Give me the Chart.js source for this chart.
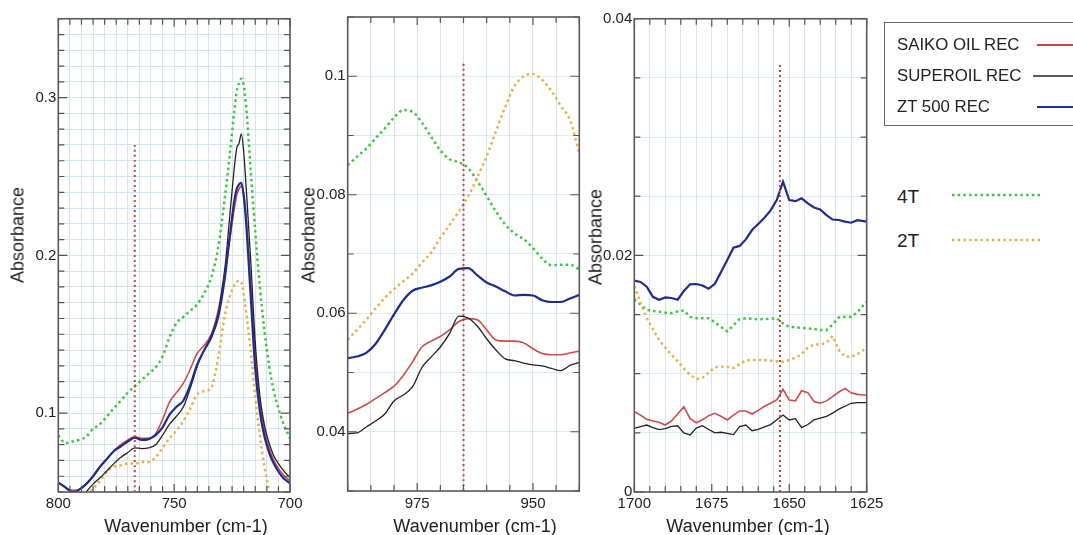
<!DOCTYPE html>
<html>
<head>
<meta charset="utf-8">
<script src="https://cdn.jsdelivr.net/npm/chart.js@4.4.1/dist/chart.umd.min.js"></script>
<style>
    html, body { margin: 0; padding: 0; background: #fff; }
    body { width: 1073px; height: 535px; position: relative; overflow: hidden;
           font-family: "Liberation Sans", Arial, sans-serif; color: #222; }
    canvas { position: absolute; top: 0; }
    .ytitle, .xtitle { position: absolute; font-size: 18px; white-space: nowrap; }
    .ytitle { transform: translate(-50%, -50%) rotate(-90deg); }
    .xtitle { transform: translate(-50%, -50%); }
    .legend-box { position: absolute; left: 884px; top: 22px; width: 200px; height: 104px;
                  border: 1.3px solid #666; box-sizing: border-box; }
    .lg { position: absolute; left: 897px; font-size: 16.8px; line-height: 20px; white-space: nowrap; }
    .lg2 { position: absolute; left: 897px; font-size: 19px; line-height: 22px; }
    svg { position: absolute; left: 0; top: 0; }
</style>
</head>
<body>
<canvas id="p1"></canvas>
<canvas id="p2"></canvas>
<canvas id="p3"></canvas>

<div class="ytitle" style="left:18px;top:235px">Absorbance</div>
<div class="ytitle" style="left:309px;top:235px">Absorbance</div>
<div class="ytitle" style="left:596px;top:237px">Absorbance</div>
<div class="xtitle" style="left:186px;top:526px">Wavenumber (cm-1)</div>
<div class="xtitle" style="left:475px;top:526px">Wavenumber (cm-1)</div>
<div class="xtitle" style="left:748px;top:526px">Wavenumber (cm-1)</div>

<div class="legend-box"></div>
<div class="lg" style="top:35px">SAIKO OIL REC</div>
<div class="lg" style="top:66px">SUPEROIL REC</div>
<div class="lg" style="top:97px">ZT 500 REC</div>
<div class="lg2" style="top:186px">4T</div>
<div class="lg2" style="top:230px">2T</div>
<svg width="1073" height="535">
    <line x1="1037" y1="45" x2="1073" y2="45" stroke="#cc4444" stroke-width="2"/>
    <line x1="1033" y1="76" x2="1073" y2="76" stroke="#222" stroke-width="1.5"/>
    <line x1="1037" y1="107" x2="1073" y2="107" stroke="#1f2b8f" stroke-width="2"/>
    <line x1="952" y1="195" x2="1043" y2="195" stroke="#3cc63c" stroke-width="2.5" stroke-dasharray="2.5 3.2"/>
    <line x1="952" y1="240" x2="1043" y2="240" stroke="#e9b04c" stroke-width="2.5" stroke-dasharray="2.5 3.2"/>
</svg>

<script>
// ---- Panel 1: 800-700 cm-1 ----
const wn1 = [800, 797, 794, 791, 788, 785, 782, 779, 776, 773,
             770, 767, 764, 761, 758, 755, 752, 749, 746, 743,
             740, 737, 734, 731, 728, 726, 724, 723, 722, 721,
             720, 719, 717, 715, 713, 711, 709, 707, 705, 703, 700];
const saiko1 = [0.056, 0.053, 0.051, 0.0515, 0.055, 0.060, 0.066, 0.071, 0.076, 0.080,
                0.083, 0.085, 0.084, 0.084, 0.087, 0.096, 0.107, 0.113, 0.119, 0.128,
                0.138, 0.143, 0.150, 0.165, 0.191, 0.210, 0.230, 0.238, 0.242, 0.244,
                0.239, 0.225, 0.183, 0.137, 0.106, 0.089, 0.078, 0.070, 0.065, 0.061, 0.057];
const superoil1 = [0.045, 0.043, 0.043, 0.045, 0.050, 0.055, 0.059, 0.0635, 0.068, 0.072,
                   0.075, 0.078, 0.0775, 0.078, 0.080, 0.086, 0.093, 0.098, 0.104, 0.116,
                   0.130, 0.140, 0.149, 0.163, 0.193, 0.225, 0.256, 0.268, 0.271, 0.277,
                   0.266, 0.245, 0.198, 0.145, 0.111, 0.092, 0.081, 0.073, 0.068, 0.064, 0.059];
const zt1 = [0.056, 0.053, 0.050, 0.0515, 0.055, 0.060, 0.066, 0.071, 0.076, 0.079,
             0.082, 0.0845, 0.083, 0.0835, 0.086, 0.091, 0.099, 0.104, 0.108, 0.118,
             0.131, 0.140, 0.148, 0.161, 0.187, 0.212, 0.235, 0.242, 0.245, 0.246,
             0.238, 0.222, 0.175, 0.128, 0.101, 0.085, 0.075, 0.068, 0.063, 0.059, 0.0555];
const fourT1 = [0.086, 0.081, 0.082, 0.083, 0.085, 0.090, 0.093, 0.098, 0.103, 0.108,
                0.113, 0.117, 0.121, 0.125, 0.129, 0.136, 0.148, 0.157, 0.161, 0.165,
                0.169, 0.176, 0.186, 0.205, 0.238, 0.264, 0.292, 0.304, 0.309, 0.312,
                0.308, 0.296, 0.255, 0.215, 0.180, 0.152, 0.130, 0.114, 0.103, 0.094, 0.084];
const twoT1 = [0.030, 0.034, 0.039, 0.044, 0.048, 0.052, 0.057, 0.063, 0.066, 0.067,
               0.068, 0.068, 0.069, 0.069, 0.072, 0.078, 0.084, 0.089, 0.095, 0.103,
               0.112, 0.114, 0.116, 0.135, 0.163, 0.174, 0.181, 0.183, 0.184, 0.183,
               0.176, 0.165, 0.140, 0.110, 0.086, 0.066, 0.051, 0.042, 0.036, 0.031, 0.026];
const marker1 = { x: 767, top: 0.27 };
const xRange1 = [700, 800], yRange1 = [0.05, 0.35];
const xLabels1 = [800, 750, 700], yLabels1 = [0.1, 0.2, 0.3];

// ---- Panel 2: 990-940 cm-1 ----
const wn2 = [990, 988, 986, 984, 982, 980, 978, 976, 974, 972, 970, 968, 966,
             964, 962, 960, 958, 956, 954, 952, 950, 948, 946, 944, 942, 940];
const saiko2 = [0.0431, 0.0438, 0.0446, 0.0456, 0.0466, 0.0477, 0.0495, 0.0518, 0.0543, 0.0553, 0.0561, 0.0572, 0.0586,
                0.0591, 0.0589, 0.0572, 0.0555, 0.0553, 0.0553, 0.0550, 0.0540, 0.0532, 0.0530, 0.0530, 0.0533, 0.0536];
const superoil2 = [0.0397, 0.0398, 0.0408, 0.0418, 0.0430, 0.0452, 0.0462, 0.0476, 0.0508, 0.0526, 0.0543, 0.0566, 0.0595,
                   0.0592, 0.0578, 0.0557, 0.0538, 0.0523, 0.0520, 0.0516, 0.0513, 0.0511, 0.0507, 0.0503, 0.0512, 0.0517];
const zt2 = [0.0524, 0.0527, 0.0533, 0.0548, 0.0572, 0.0598, 0.0622, 0.0638, 0.0643, 0.0647, 0.0653, 0.0662, 0.0675,
             0.0676, 0.0664, 0.0652, 0.0645, 0.0637, 0.0630, 0.0631, 0.0630, 0.0622, 0.0619, 0.0619, 0.0625, 0.0631];
const fourT2 = [0.0850, 0.0864, 0.0878, 0.0895, 0.0912, 0.0930, 0.0943, 0.0940, 0.0922, 0.0898, 0.0875, 0.0860, 0.0855,
                0.0845, 0.0823, 0.0798, 0.0772, 0.0750, 0.0735, 0.0725, 0.0710, 0.0692, 0.0681, 0.0682, 0.0682, 0.0674];
const twoT2 = [0.0555, 0.0572, 0.0589, 0.0608, 0.0626, 0.0641, 0.0654, 0.0667, 0.0685, 0.0702, 0.0727, 0.0749, 0.0772,
               0.0797, 0.0830, 0.0865, 0.0907, 0.0948, 0.0983, 0.1000, 0.1004, 0.0994, 0.0975, 0.0950, 0.0926, 0.0870];
const marker2 = { x: 965, top: 0.1025 };
const xRange2 = [940, 990], yRange2 = [0.03, 0.11];
const xLabels2 = [975, 950], yLabels2 = [0.04, 0.06, 0.08, 0.1];

// ---- Panel 3: 1700-1625 cm-1 ----
const wn3 = [1700, 1698, 1696, 1694, 1692, 1690, 1688, 1686, 1684, 1682,
             1680, 1678, 1676, 1674, 1672, 1670, 1668, 1666, 1664, 1662,
             1660, 1658, 1656, 1654, 1652, 1650, 1648, 1646, 1644, 1642,
             1640, 1638, 1636, 1634, 1632, 1630, 1628, 1626, 1625];
const saiko3 = [0.00679, 0.00650, 0.00615, 0.00600, 0.00590, 0.00566, 0.00600, 0.00660, 0.00721, 0.00620,
                0.00585, 0.00610, 0.00645, 0.00665, 0.00640, 0.00609, 0.00650, 0.00685, 0.00685, 0.00659,
                0.00690, 0.00725, 0.00750, 0.00780, 0.00868, 0.00778, 0.00770, 0.00856, 0.00840, 0.00765,
                0.00750, 0.00770, 0.00806, 0.00845, 0.00876, 0.00838, 0.00825, 0.00820, 0.00820];
const superoil3 = [0.00538, 0.00552, 0.00566, 0.00545, 0.00528, 0.00535, 0.00555, 0.00560, 0.00500, 0.00482,
                   0.00540, 0.00560, 0.00528, 0.00500, 0.00505, 0.00495, 0.00485, 0.00552, 0.00566, 0.00518,
                   0.00530, 0.00550, 0.00570, 0.00610, 0.00651, 0.00609, 0.00620, 0.00544, 0.00570, 0.00609,
                   0.00625, 0.00640, 0.00667, 0.00700, 0.00725, 0.00750, 0.00755, 0.00755, 0.00755];
const zt3 = [0.01786, 0.01775, 0.01735, 0.01650, 0.01625, 0.01645, 0.01640, 0.01625, 0.01700, 0.01755,
             0.01758, 0.01745, 0.01718, 0.01760, 0.01860, 0.01960, 0.02065, 0.02080, 0.02135, 0.02214,
             0.02265, 0.02318, 0.02380, 0.02470, 0.02623, 0.02468, 0.02458, 0.02482, 0.02440, 0.02405,
             0.02388, 0.02340, 0.02303, 0.02299, 0.02285, 0.02276, 0.02297, 0.02290, 0.02285];
const fourT3 = [0.01629, 0.01585, 0.01540, 0.01530, 0.01524, 0.01515, 0.01512, 0.01525, 0.01535, 0.01480,
                0.01468, 0.01468, 0.01468, 0.01435, 0.01395, 0.01358, 0.01410, 0.01460, 0.01468, 0.01465,
                0.01460, 0.01462, 0.01465, 0.01468, 0.01425, 0.01395, 0.01392, 0.01388, 0.01383, 0.01378,
                0.01370, 0.01368, 0.01415, 0.01475, 0.01482, 0.01480, 0.01520, 0.01580, 0.01608];
const twoT3 = [0.01741, 0.01600, 0.01470, 0.01375, 0.01285, 0.01220, 0.01160, 0.01105, 0.01045, 0.00990,
               0.00955, 0.00965, 0.01010, 0.01055, 0.01058, 0.01059, 0.01048, 0.01080, 0.01112, 0.01116,
               0.01116, 0.01116, 0.01110, 0.01105, 0.01101, 0.01115, 0.01135, 0.01165, 0.01220, 0.01245,
               0.01248, 0.01260, 0.01318, 0.01200, 0.01144, 0.01144, 0.01165, 0.01200, 0.01215];
const marker3 = { x: 1653, top: 0.0363 };
const xRange3 = [1625, 1700], yRange3 = [0, 0.04];
const xLabels3 = [1700, 1675, 1650, 1625], yLabels3 = [0, 0.02, 0.04];

// colours
const RED = '#cc4b4b', BLACK = '#222222', BLUE = '#1f2b8f';
const GREEN = '#3cc63c', ORANGE = '#e9b04c', MARK = '#b8473f';
const FONT = '"Liberation Sans", Arial, sans-serif';

const pts = (xs, ys) => xs.map((x, i) => ({ x: x, y: ys[i] }));

function stepTicks(min, max, step) {
    const n = Math.round((max - min) / step);
    const out = [];
    for (let i = 0; i <= n; i++) out.push({ value: +(min + i * step).toFixed(6) });
    return out;
}

function labelFor(list) {
    return (value) => list.some(v => Math.abs(v - value) < 1e-9) ? String(+value.toFixed(6)) : '';
}

// box frame with inward tick marks on all four sides
const frameTicks = {
    id: 'frameTicks',
    afterDatasetsDraw(chart) {
        const { ctx, chartArea: a, scales: { x, y } } = chart;
        ctx.save();
        ctx.strokeStyle = '#555';
        ctx.lineWidth = 1.2;
        ctx.beginPath();
        x.ticks.forEach(t => {
            const px = x.getPixelForValue(t.value);
            const len = t.label ? 8 : 6;
            ctx.moveTo(px, a.bottom); ctx.lineTo(px, a.bottom - len);
            ctx.moveTo(px, a.top); ctx.lineTo(px, a.top + len);
        });
        y.ticks.forEach(t => {
            const py = y.getPixelForValue(t.value);
            const len = t.label ? 9 : 6;
            ctx.moveTo(a.left, py); ctx.lineTo(a.left + len, py);
            ctx.moveTo(a.right, py); ctx.lineTo(a.right - len, py);
        });
        ctx.stroke();
        ctx.lineWidth = 1.6;
        ctx.strokeStyle = '#5a5a5a';
        ctx.strokeRect(a.left, a.top, a.right - a.left, a.bottom - a.top);
        ctx.restore();
    }
};

function makePanel(id, box, p) {
    const cv = document.getElementById(id);
    cv.width = box.width;
    cv.height = 535;
    cv.style.left = box.left + 'px';
    const smooth = p.smooth ? 'monotone' : 'default';
    const line = (data, color, width, dash) => ({
        data: data, borderColor: color, borderWidth: width, borderDash: dash || [],
        pointRadius: 0, fill: false, cubicInterpolationMode: smooth, tension: 0
    });
    new Chart(cv, {
        type: 'line',
        data: {
            datasets: [
                line([{ x: p.marker.x, y: p.yRange[0] }, { x: p.marker.x, y: p.marker.top }], MARK, 2, [2, 3]),
                line(pts(p.wn, p.zt), BLUE, 2.2),
                line(pts(p.wn, p.superoil), BLACK, 1.3),
                line(pts(p.wn, p.saiko), RED, 1.6),
                line(pts(p.wn, p.twoT), ORANGE, 2.5, [2.5, 3.2]),
                line(pts(p.wn, p.fourT), GREEN, 2.5, [2.5, 3.2])
            ]
        },
        options: {
            responsive: false,
            animation: false,
            layout: { padding: { top: box.top, right: box.right, left: 0, bottom: 0 } },
            plugins: { legend: { display: false }, tooltip: { enabled: false } },
            scales: {
                x: {
                    type: 'linear', reverse: true,
                    min: p.xRange[0], max: p.xRange[1],
                    afterBuildTicks: s => { s.ticks = stepTicks(p.xRange[0], p.xRange[1], p.xStep); },
                    afterFit: s => { s.height = 535 - box.bottom; },
                    ticks: { autoSkip: false, maxRotation: 0, padding: box.xPad, color: '#222',
                             font: { size: 15, family: FONT }, callback: labelFor(p.xLabels) },
                    grid: { color: '#d3e6ee', drawTicks: false },
                    border: { display: false }
                },
                y: {
                    type: 'linear',
                    min: p.yRange[0], max: p.yRange[1],
                    afterBuildTicks: s => { s.ticks = stepTicks(p.yRange[0], p.yRange[1], p.yStep); },
                    afterFit: s => { s.width = box.yWidth; },
                    ticks: { autoSkip: false, padding: 2, color: '#222',
                             font: { size: 15, family: FONT }, callback: labelFor(p.yLabels) },
                    grid: { color: p.yGrid, drawTicks: false },
                    border: { display: false }
                }
            }
        },
        plugins: [frameTicks]
    });
}

makePanel('p1', { left: 0, width: 304, yWidth: 58.3, right: 14, top: 18.75, bottom: 492, xPad: 3 }, {
    wn: wn1, saiko: saiko1, superoil: superoil1, zt: zt1, fourT: fourT1, twoT: twoT1,
    marker: marker1, xRange: xRange1, yRange: yRange1, xStep: 5, yStep: 0.01,
    xLabels: xLabels1, yLabels: yLabels1, smooth: true, yGrid: '#d3e6ee'
});
makePanel('p2', { left: 298, width: 296, yWidth: 49.7, right: 14.7, top: 17, bottom: 491, xPad: 4 }, {
    wn: wn2, saiko: saiko2, superoil: superoil2, zt: zt2, fourT: fourT2, twoT: twoT2,
    marker: marker2, xRange: xRange2, yRange: yRange2, xStep: 5, yStep: 0.01,
    xLabels: xLabels2, yLabels: yLabels2, smooth: true, yGrid: 'rgba(205,228,236,0.7)'
});
makePanel('p3', { left: 588, width: 300, yWidth: 46.3, right: 21.3, top: 18.75, bottom: 492, xPad: 3 }, {
    wn: wn3, saiko: saiko3, superoil: superoil3, zt: zt3, fourT: fourT3, twoT: twoT3,
    marker: marker3, xRange: xRange3, yRange: yRange3, xStep: 5, yStep: 0.005,
    xLabels: xLabels3, yLabels: yLabels3, smooth: false, yGrid: 'rgba(205,228,236,0.7)'
});
</script>
</body>
</html>
